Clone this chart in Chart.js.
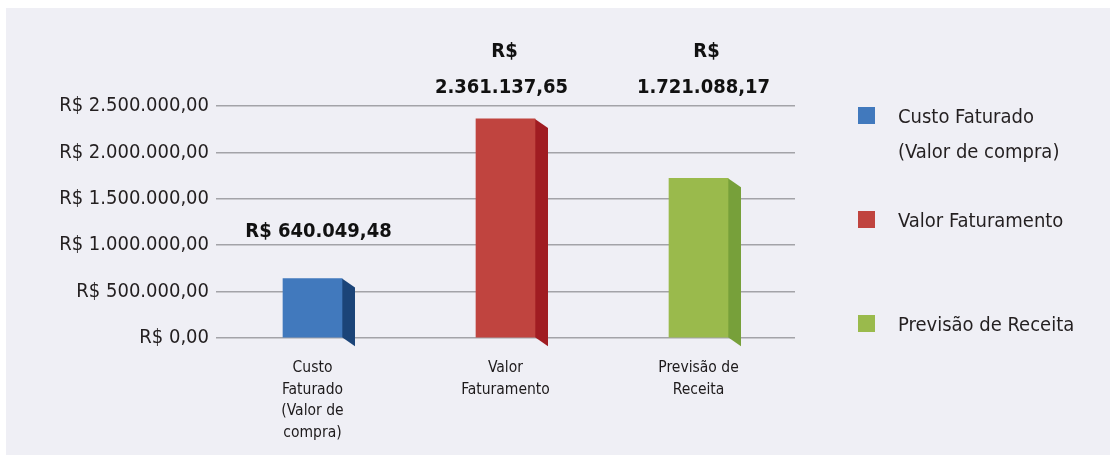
<!DOCTYPE html>
<html>
<head>
<meta charset="utf-8">
<script src="https://cdn.jsdelivr.net/npm/chart.js@4.4.1/dist/chart.umd.min.js"></script>
<style>
  html, body { margin: 0; padding: 0; background: #fff; }
  #wrap { position: relative; width: 1116px; height: 463px; background: #fff; }
  #panel { position: absolute; left: 6px; top: 8px; width: 1104px; height: 447px; background: #efeff5; }
  #chart { position: absolute; left: 0; top: 0; }
  .legend-item { position: absolute; left: 858px; font-family: 'Liberation Sans Narrow', 'DejaVu Sans Condensed', 'Open Sans', sans-serif; font-size: 20px; color: #231f20; }
  .legend-item .sw { position: absolute; left: 0; top: 0; width: 17px; height: 17px; }
  .legend-item .tx { position: absolute; left: 40px; top: -8px; width: 220px; line-height: 35px; white-space: nowrap; }
</style>
</head>
<body>
<div id="wrap">
  <div id="panel"></div>
  <canvas id="chart" width="1116" height="463"></canvas>
  <div id="legend"></div>
</div>
<script>
// data
const categories = ['Custo Faturado (Valor de compra)', 'Valor Faturamento', 'Previsão de Receita']
const xTickLines = [['Custo', 'Faturado', '(Valor de', 'compra)'], ['Valor', 'Faturamento'], ['Previsão de', 'Receita']]
const legendLines = [['Custo Faturado', '(Valor de compra)'], ['Valor Faturamento'], ['Previsão de Receita']]
const values = [640049.48, 2361137.65, 1721088.17]
const yTicks = [0, 500000, 1000000, 1500000, 2000000, 2500000]

const frontColors = ['#4179bd', '#c0443f', '#9aba4c']
const sideColors = ['#1b4478', '#a01c22', '#77a03a']
const FONT = "'Liberation Sans Narrow', 'DejaVu Sans Condensed', 'Open Sans', sans-serif"

function brl(v) {
  const parts = v.toFixed(2).split('.')
  return parts[0].replace(/\B(?=(\d{3})+(?!\d))/g, '.') + ',' + parts[1]
}

// 3D side faces + value labels
const bar3d = {
  id: 'bar3d',
  beforeDatasetsDraw(chart) {
    const ctx = chart.ctx
    const meta = chart.getDatasetMeta(0)
    meta.data.forEach((bar, i) => {
      const r = bar.x + bar.width / 2
      const depthX = 13, depthY = 9
      ctx.save()
      ctx.fillStyle = sideColors[i]
      ctx.beginPath()
      ctx.moveTo(r, bar.y)
      ctx.lineTo(r + depthX, bar.y + depthY)
      ctx.lineTo(r + depthX, bar.base + depthY)
      ctx.lineTo(r, bar.base)
      ctx.closePath()
      ctx.fill()
      ctx.restore()
    })
  },
  afterDatasetsDraw(chart) {
    const ctx = chart.ctx
    const meta = chart.getDatasetMeta(0)
    const above = [47, 31, 90]
    const shift = [6, -4, 5]
    ctx.save()
    ctx.fillStyle = '#111'
    ctx.font = 'bold 20px ' + FONT
    ctx.textAlign = 'center'
    ctx.textBaseline = 'middle'
    meta.data.forEach((bar, i) => {
      const cx = bar.x + shift[i]
      const y = bar.y - above[i]
      if (i === 0) {
        ctx.fillText('R$ ' + brl(values[i]), cx, y)
      } else {
        ctx.fillText('R$', cx + 3, y - 36)
        ctx.fillText(brl(values[i]), cx, y)
      }
    })
    ctx.restore()
  }
}

new Chart(document.getElementById('chart'), {
  type: 'bar',
  data: {
    labels: categories,
    datasets: [{
      data: values,
      backgroundColor: frontColors,
      borderWidth: 0,
      barThickness: 59
    }]
  },
  options: {
    responsive: false,
    animation: false,
    layout: { padding: { left: 16, right: 321, top: 106, bottom: 0 } },
    plugins: {
      legend: { display: false },
      tooltip: { enabled: false }
    },
    scales: {
      x: {
        grid: { display: false },
        border: { display: false },
        afterFit(scale) { scale.height = 125 },
        ticks: {
          color: '#1d1a1b',
          padding: 11,
          maxRotation: 0,
          autoSkip: false,
          font: { family: FONT, size: 15.5, lineHeight: 1.4 },
          callback: (v, i) => xTickLines[i]
        }
      },
      y: {
        min: 0,
        max: 2500000,
        afterFit(scale) { scale.width = 200 },
        afterBuildTicks(scale) { scale.ticks = yTicks.map(v => ({ value: v })) },
        border: { display: false },
        grid: { color: '#a3a3a8', lineWidth: 1.5, drawTicks: false },
        ticks: {
          color: '#231f20',
          padding: 7,
          font: { family: FONT, size: 20 },
          callback: v => 'R$ ' + brl(v)
        }
      }
    }
  },
  plugins: [bar3d]
})

// legend
const legend = document.getElementById('legend')
categories.forEach((name, i) => {
  const item = document.createElement('div')
  item.className = 'legend-item'
  item.style.top = (107 + i * 104) + 'px'
  item.title = name
  item.innerHTML = '<div class="sw" style="background:' + frontColors[i] + '"></div><div class="tx">' + legendLines[i].join('<br>') + '</div>'
  legend.appendChild(item)
})
</script>
</body>
</html>
